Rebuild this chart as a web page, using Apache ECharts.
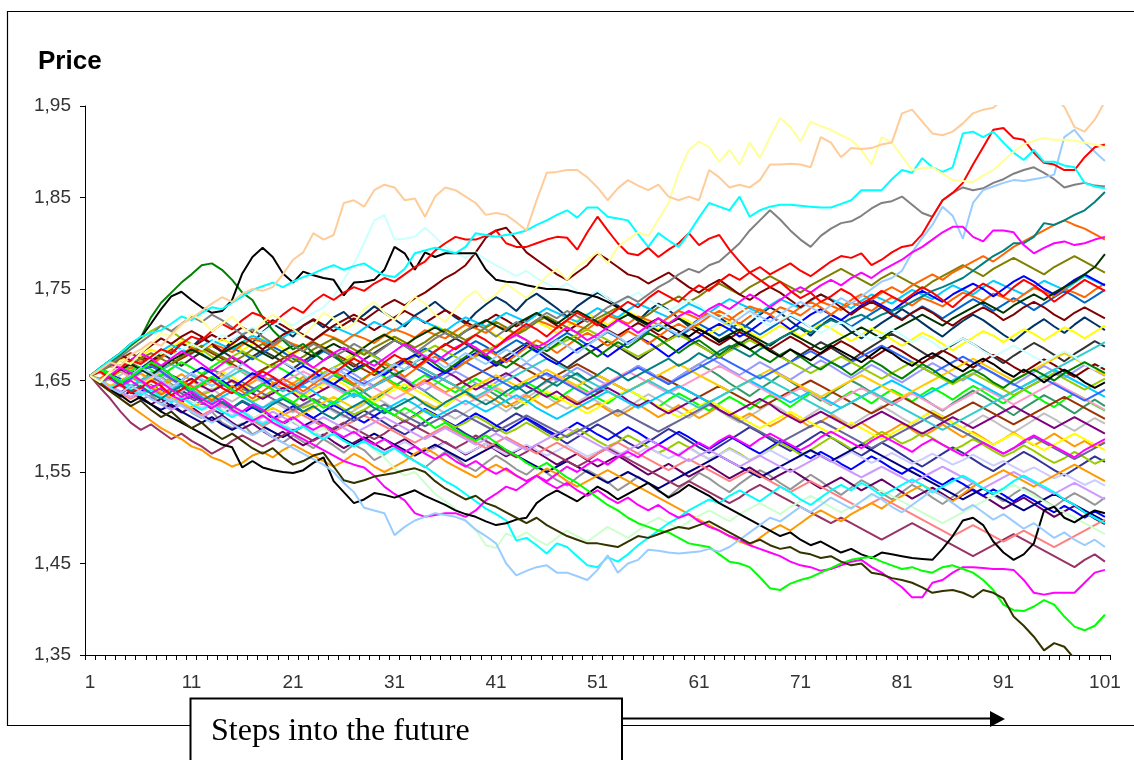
<!DOCTYPE html>
<html>
<head>
<meta charset="utf-8">
<script src="https://cdn.jsdelivr.net/npm/echarts@6/dist/echarts.min.js"></script>
<style>
html,body{margin:0;padding:0;background:#fff;}
#chart{width:1134px;height:760px;}
</style>
</head>
<body>
<div id="chart"></div>
<script>
// Steps (categories) and axis settings
const steps = [];
for (let i = 1; i <= 101; i++) steps.push(String(i));
const yMin = 1.35, yMax = 1.95, yStep = 0.1;

// Price paths, in thousandths (1655 = 1,655)
const peach1 = [1655,1662,1670,1666,1678,1684,1692,1688,1700,1712,1718,1726,1734,1741,1736,1745,1750,1748,1752,1766,1782,1790,1811,1804,1809,1844,1847,1840,1858,1864,1861,1847,1849,1829,1851,1861,1858,1851,1844,1831,1833,1831,1823,1814,1847,1877,1878,1880,1880,1872,1861,1847,1860,1869,1863,1858,1864,1851,1847,1851,1847,1880,1872,1861,1864,1861,1869,1886,1886,1887,1886,1883,1916,1910,1894,1904,1903,1904,1908,1910,1942,1946,1933,1920,1918,1922,1931,1942,1946,1948,1958,1966,1972,1965,1978,1960,1949,1927,1922,1935,1955];
const yellowLight1 = [1655,1648,1660,1672,1668,1680,1690,1702,1698,1710,1722,1716,1704,1712,1720,1708,1700,1714,1722,1716,1706,1698,1710,1724,1718,1706,1712,1728,1736,1724,1716,1730,1742,1734,1722,1714,1728,1740,1748,1736,1744,1756,1748,1740,1752,1764,1772,1760,1774,1782,1790,1778,1796,1804,1812,1808,1826,1844,1877,1902,1911,1905,1889,1902,1886,1910,1893,1916,1937,1927,1911,1933,1928,1924,1918,1913,1902,1886,1916,1910,1895,1880,1882,1883,1876,1869,1868,1867,1874,1880,1890,1900,1908,1912,1915,1913,1913,1912,1910,1908,1905];
const cyan1 = [1655,1664,1672,1680,1690,1698,1702,1705,1712,1720,1716,1724,1730,1728,1735,1742,1749,1753,1757,1752,1758,1763,1767,1772,1776,1771,1775,1778,1771,1765,1763,1772,1789,1792,1795,1792,1789,1796,1811,1809,1807,1809,1811,1814,1820,1825,1831,1836,1828,1839,1839,1829,1827,1825,1810,1796,1811,1803,1796,1811,1828,1844,1840,1836,1851,1829,1836,1840,1842,1842,1841,1840,1839,1839,1843,1847,1858,1858,1858,1870,1880,1877,1893,1883,1878,1883,1920,1922,1916,1922,1910,1899,1891,1902,1889,1889,1885,1883,1866,1862,1860];
const red1 = [1655,1660,1652,1664,1672,1668,1676,1684,1680,1690,1698,1694,1704,1712,1706,1716,1724,1720,1712,1722,1730,1724,1736,1744,1738,1746,1752,1748,1756,1762,1758,1766,1774,1780,1792,1800,1807,1804,1804,1808,1814,1800,1796,1796,1800,1804,1807,1806,1793,1812,1829,1814,1800,1789,1787,1795,1785,1793,1800,1811,1798,1805,1809,1793,1780,1768,1760,1752,1758,1748,1740,1746,1736,1742,1750,1744,1734,1740,1748,1742,1736,1744,1752,1746,1738,1730,1740,1748,1756,1750,1742,1752,1760,1754,1746,1736,1744,1752,1760,1754,1748];
const red2 = [1655,1648,1640,1646,1636,1642,1650,1644,1634,1640,1648,1656,1650,1642,1636,1644,1652,1660,1654,1646,1640,1648,1656,1664,1658,1666,1674,1668,1660,1670,1678,1672,1664,1672,1682,1690,1684,1692,1700,1694,1686,1696,1704,1712,1706,1698,1708,1716,1724,1718,1710,1720,1728,1736,1730,1740,1748,1742,1736,1746,1754,1748,1758,1766,1760,1768,1774,1766,1772,1778,1770,1764,1772,1780,1786,1784,1789,1776,1782,1790,1796,1798,1810,1829,1847,1855,1866,1886,1905,1924,1926,1915,1913,1899,1888,1886,1880,1880,1894,1905,1908];
const olive1 = [1655,1646,1638,1630,1622,1628,1618,1610,1616,1606,1598,1604,1594,1586,1592,1584,1576,1570,1576,1566,1558,1562,1568,1571,1556,1541,1538,1541,1545,1547,1549,1552,1554,1550,1540,1532,1526,1520,1524,1516,1512,1506,1500,1494,1500,1492,1486,1480,1476,1472,1472,1470,1468,1474,1480,1478,1482,1486,1490,1488,1492,1496,1490,1484,1478,1472,1476,1470,1466,1468,1462,1460,1456,1458,1452,1448,1450,1440,1438,1434,1432,1429,1424,1418,1420,1421,1418,1413,1421,1418,1412,1392,1382,1370,1355,1363,1359,1346,1335,1328,1320];
const green1 = [1655,1662,1656,1648,1654,1662,1670,1664,1656,1648,1640,1646,1654,1648,1640,1632,1638,1646,1640,1632,1626,1634,1628,1620,1626,1634,1640,1632,1624,1618,1612,1620,1614,1606,1598,1604,1596,1590,1584,1590,1582,1574,1568,1560,1554,1560,1552,1544,1538,1530,1522,1514,1508,1500,1494,1490,1486,1484,1478,1472,1470,1468,1460,1452,1450,1446,1435,1423,1421,1428,1432,1435,1440,1445,1450,1454,1456,1457,1452,1448,1444,1446,1442,1440,1446,1448,1444,1440,1432,1421,1405,1399,1398,1403,1410,1405,1392,1381,1377,1382,1394];
const magenta1 = [1655,1648,1656,1664,1658,1650,1642,1648,1640,1632,1638,1630,1624,1630,1622,1616,1624,1618,1610,1604,1610,1602,1596,1602,1594,1588,1594,1586,1580,1586,1578,1572,1578,1570,1564,1570,1562,1556,1562,1554,1548,1554,1546,1540,1546,1538,1532,1538,1530,1524,1530,1522,1516,1522,1514,1508,1514,1506,1500,1504,1496,1490,1486,1480,1476,1470,1466,1462,1458,1452,1448,1446,1442,1444,1448,1452,1454,1446,1440,1432,1424,1413,1413,1429,1432,1440,1446,1446,1445,1444,1444,1443,1432,1418,1416,1418,1418,1418,1429,1440,1443];
const lightBlue1 = [1655,1650,1642,1636,1644,1638,1630,1624,1630,1622,1616,1610,1604,1610,1602,1596,1590,1596,1588,1582,1576,1570,1564,1558,1550,1538,1528,1511,1508,1505,1481,1490,1497,1501,1505,1503,1501,1497,1487,1480,1472,1450,1437,1442,1446,1448,1440,1440,1436,1432,1443,1459,1440,1450,1454,1465,1464,1462,1461,1462,1463,1466,1463,1468,1476,1484,1492,1500,1496,1504,1512,1506,1514,1522,1516,1510,1518,1526,1520,1512,1506,1514,1522,1530,1524,1516,1508,1514,1506,1498,1504,1496,1488,1494,1486,1478,1484,1476,1470,1476,1468];
const black1 = [1655,1664,1672,1680,1690,1697,1712,1728,1742,1747,1738,1730,1724,1726,1738,1767,1785,1795,1785,1767,1757,1769,1765,1762,1760,1743,1757,1758,1760,1771,1796,1789,1771,1790,1785,1789,1789,1789,1789,1771,1760,1758,1757,1754,1752,1750,1750,1749,1746,1744,1741,1736,1730,1724,1718,1712,1718,1710,1704,1698,1706,1700,1692,1698,1690,1684,1690,1682,1676,1684,1678,1672,1680,1688,1682,1676,1670,1678,1686,1680,1672,1666,1674,1680,1674,1666,1660,1668,1674,1668,1660,1654,1662,1656,1648,1656,1662,1656,1648,1642,1648];
const darkGreen1 = [1655,1662,1670,1678,1688,1697,1719,1735,1746,1757,1766,1776,1778,1771,1760,1746,1738,1719,1705,1694,1684,1690,1680,1672,1678,1668,1660,1666,1672,1664,1656,1662,1670,1676,1668,1660,1668,1676,1684,1678,1670,1664,1672,1680,1688,1682,1690,1698,1692,1684,1676,1684,1692,1686,1694,1702,1696,1688,1680,1688,1694,1686,1678,1686,1692,1684,1676,1670,1678,1684,1676,1668,1662,1670,1664,1656,1664,1672,1666,1658,1652,1660,1668,1662,1654,1648,1656,1662,1656,1648,1642,1650,1656,1662,1656,1650,1658,1664,1670,1664,1658];
const gray1 = [1655,1660,1668,1676,1684,1692,1700,1710,1704,1712,1720,1714,1722,1716,1708,1700,1706,1698,1690,1696,1688,1682,1690,1684,1676,1682,1690,1684,1678,1686,1694,1688,1680,1688,1696,1702,1696,1704,1712,1706,1698,1706,1714,1708,1716,1724,1718,1726,1720,1714,1722,1730,1736,1742,1736,1744,1752,1758,1766,1772,1768,1776,1780,1790,1800,1814,1825,1836,1826,1814,1804,1796,1808,1816,1822,1824,1830,1838,1844,1846,1851,1842,1833,1829,1847,1855,1861,1858,1860,1866,1870,1876,1880,1883,1877,1870,1861,1864,1866,1863,1862];
const teal1 = [1655,1648,1654,1646,1638,1644,1636,1630,1638,1644,1636,1628,1634,1626,1620,1628,1622,1616,1624,1630,1624,1616,1622,1614,1608,1616,1622,1628,1620,1614,1620,1626,1632,1624,1618,1626,1632,1638,1630,1624,1630,1638,1644,1636,1642,1650,1644,1652,1658,1650,1656,1664,1658,1650,1656,1662,1668,1674,1666,1672,1680,1674,1682,1688,1682,1676,1684,1690,1696,1702,1708,1702,1710,1716,1712,1718,1722,1716,1722,1726,1730,1736,1742,1748,1752,1757,1762,1770,1778,1786,1792,1800,1800,1807,1822,1820,1825,1831,1836,1845,1856];
const lightBlue2 = [1655,1662,1656,1648,1656,1664,1658,1650,1642,1650,1658,1652,1644,1652,1660,1668,1662,1654,1662,1670,1664,1656,1648,1656,1664,1658,1650,1644,1652,1660,1668,1662,1670,1678,1672,1664,1672,1680,1674,1668,1676,1684,1678,1670,1678,1686,1694,1688,1680,1688,1696,1704,1698,1690,1698,1706,1712,1706,1700,1708,1716,1722,1716,1710,1718,1726,1720,1714,1722,1730,1736,1730,1724,1732,1740,1734,1742,1750,1758,1762,1770,1790,1806,1820,1840,1830,1805,1844,1858,1862,1866,1869,1868,1870,1872,1875,1916,1924,1910,1900,1890];
const magenta2 = [1655,1662,1670,1664,1672,1680,1674,1666,1674,1682,1676,1668,1660,1668,1676,1670,1662,1654,1662,1670,1678,1672,1664,1672,1680,1686,1680,1672,1666,1674,1682,1690,1684,1676,1670,1678,1686,1692,1686,1678,1686,1694,1700,1694,1686,1692,1700,1708,1702,1694,1700,1708,1716,1710,1702,1710,1718,1712,1720,1726,1720,1728,1734,1728,1736,1744,1738,1730,1738,1746,1752,1746,1754,1760,1754,1762,1768,1762,1770,1776,1782,1790,1796,1804,1812,1818,1818,1807,1802,1814,1814,1812,1798,1789,1795,1800,1802,1798,1800,1804,1807];
const orange1 = [1655,1648,1640,1648,1656,1650,1642,1634,1642,1650,1644,1636,1628,1636,1644,1638,1630,1638,1646,1652,1646,1638,1646,1654,1660,1654,1646,1652,1660,1668,1662,1654,1662,1670,1676,1670,1662,1670,1678,1684,1678,1670,1678,1686,1694,1688,1680,1688,1696,1702,1696,1688,1696,1704,1698,1690,1698,1706,1712,1706,1712,1720,1726,1720,1712,1720,1728,1722,1714,1722,1730,1736,1730,1722,1730,1738,1744,1738,1746,1752,1746,1754,1760,1766,1760,1768,1774,1780,1786,1780,1788,1796,1802,1808,1814,1820,1825,1820,1816,1810,1804];
const maroon1 = [1655,1662,1670,1678,1672,1680,1688,1696,1690,1698,1704,1698,1690,1682,1690,1698,1692,1684,1692,1700,1706,1700,1694,1702,1710,1716,1722,1716,1724,1732,1738,1732,1740,1746,1754,1762,1768,1776,1790,1806,1814,1817,1804,1790,1782,1774,1766,1760,1768,1776,1789,1782,1774,1766,1763,1756,1762,1768,1760,1752,1746,1754,1760,1752,1744,1738,1746,1752,1746,1738,1730,1738,1744,1738,1730,1722,1730,1736,1730,1722,1716,1724,1730,1724,1716,1710,1718,1724,1730,1724,1716,1722,1730,1736,1730,1722,1716,1724,1730,1724,1718];
const lightCyan1 = [1655,1650,1658,1664,1672,1666,1674,1682,1676,1684,1690,1684,1692,1700,1694,1702,1708,1702,1710,1716,1710,1718,1724,1730,1742,1760,1778,1800,1825,1831,1804,1805,1807,1817,1807,1796,1790,1784,1790,1782,1776,1770,1764,1770,1762,1756,1750,1756,1748,1742,1748,1740,1734,1740,1746,1738,1732,1726,1732,1738,1732,1724,1718,1724,1730,1724,1716,1710,1716,1722,1716,1708,1702,1708,1714,1708,1700,1694,1700,1706,1700,1692,1698,1692,1684,1690,1696,1690,1682,1676,1682,1688,1682,1676,1670,1676,1682,1676,1668,1662,1668];
const black2 = [1655,1648,1640,1634,1626,1632,1624,1616,1610,1604,1598,1592,1586,1580,1577,1555,1562,1555,1552,1550,1549,1552,1560,1566,1540,1528,1516,1520,1527,1525,1522,1526,1530,1524,1519,1514,1508,1504,1501,1496,1492,1494,1498,1500,1516,1524,1530,1524,1518,1526,1534,1528,1520,1526,1532,1538,1530,1522,1528,1536,1530,1524,1516,1510,1504,1498,1492,1486,1480,1484,1476,1470,1474,1468,1462,1466,1460,1456,1462,1460,1458,1456,1455,1454,1466,1480,1497,1500,1492,1474,1462,1454,1460,1472,1508,1512,1500,1495,1502,1508,1505];
const cyan2 = [1655,1650,1642,1648,1640,1634,1640,1632,1626,1632,1624,1618,1624,1616,1610,1616,1608,1602,1608,1600,1594,1600,1592,1586,1592,1584,1578,1584,1576,1570,1576,1568,1562,1556,1548,1540,1534,1526,1518,1510,1504,1497,1475,1478,1470,1461,1472,1468,1458,1448,1446,1457,1452,1460,1470,1478,1486,1494,1500,1508,1514,1520,1516,1524,1530,1524,1518,1526,1534,1528,1520,1514,1522,1530,1536,1530,1538,1532,1524,1530,1536,1542,1536,1528,1534,1540,1546,1540,1532,1526,1532,1540,1546,1540,1534,1528,1520,1514,1506,1500,1494];
const magenta3 = [1655,1660,1652,1644,1650,1642,1636,1642,1634,1628,1634,1626,1620,1626,1618,1612,1606,1612,1604,1598,1592,1586,1580,1574,1568,1562,1558,1555,1546,1534,1526,1519,1505,1501,1503,1505,1505,1501,1508,1519,1526,1534,1530,1538,1546,1540,1548,1556,1550,1558,1564,1558,1566,1572,1566,1574,1580,1574,1568,1576,1582,1576,1584,1590,1584,1578,1586,1592,1586,1580,1574,1580,1588,1594,1588,1582,1576,1584,1590,1584,1578,1572,1580,1586,1580,1574,1568,1576,1582,1576,1570,1576,1584,1590,1584,1578,1572,1566,1574,1580,1586];
const lightGreen1 = [1655,1648,1654,1646,1640,1646,1638,1632,1638,1630,1624,1630,1622,1616,1622,1614,1608,1614,1606,1600,1606,1598,1592,1598,1590,1584,1578,1584,1574,1566,1554,1546,1550,1538,1526,1518,1510,1496,1487,1470,1467,1483,1478,1484,1476,1470,1478,1486,1480,1474,1482,1490,1484,1478,1486,1494,1500,1494,1488,1496,1502,1508,1502,1496,1504,1510,1516,1510,1504,1512,1518,1524,1518,1512,1506,1512,1518,1524,1530,1524,1518,1512,1506,1500,1494,1500,1506,1512,1518,1524,1530,1536,1530,1524,1518,1512,1506,1500,1494,1488,1482];
const orange2 = [1655,1646,1638,1630,1622,1614,1606,1598,1592,1586,1578,1574,1566,1562,1556,1560,1568,1572,1566,1574,1580,1574,1568,1562,1556,1562,1570,1564,1556,1550,1556,1562,1570,1576,1570,1562,1556,1550,1544,1552,1558,1552,1546,1540,1546,1554,1548,1540,1534,1540,1546,1552,1546,1540,1534,1528,1522,1516,1510,1504,1498,1492,1486,1480,1474,1470,1478,1486,1492,1486,1494,1502,1508,1502,1496,1504,1510,1516,1510,1518,1524,1530,1536,1530,1524,1518,1526,1534,1540,1546,1552,1546,1540,1534,1540,1546,1552,1558,1552,1546,1540];
const plum1 = [1655,1642,1630,1616,1604,1596,1602,1594,1586,1592,1584,1578,1570,1576,1584,1590,1584,1578,1584,1590,1596,1590,1584,1590,1598,1604,1598,1592,1586,1592,1600,1606,1600,1594,1588,1582,1576,1582,1590,1584,1578,1572,1566,1572,1580,1574,1568,1562,1556,1562,1570,1576,1570,1564,1558,1552,1546,1540,1534,1540,1534,1528,1522,1516,1522,1530,1536,1530,1524,1518,1512,1506,1500,1494,1500,1494,1488,1482,1476,1482,1488,1494,1488,1482,1476,1470,1464,1458,1464,1470,1476,1482,1476,1470,1464,1458,1452,1446,1454,1460,1452];
const navy1 = [1655,1648,1640,1632,1638,1630,1624,1618,1624,1616,1610,1604,1610,1602,1596,1602,1608,1600,1594,1588,1594,1600,1606,1600,1592,1586,1580,1586,1592,1586,1580,1574,1568,1574,1580,1574,1568,1562,1568,1574,1580,1574,1568,1562,1556,1550,1556,1562,1556,1550,1544,1538,1544,1550,1544,1538,1532,1538,1544,1550,1556,1562,1568,1562,1556,1550,1544,1550,1556,1562,1568,1574,1568,1562,1568,1574,1580,1574,1568,1562,1556,1550,1544,1538,1532,1526,1520,1526,1532,1526,1520,1514,1508,1514,1520,1526,1520,1514,1508,1502,1496];
const blue1 = [1655,1662,1656,1648,1656,1664,1670,1664,1656,1650,1658,1664,1658,1650,1642,1650,1658,1652,1644,1652,1660,1666,1660,1652,1646,1654,1662,1668,1662,1656,1664,1672,1678,1672,1664,1658,1666,1674,1680,1674,1666,1672,1680,1688,1682,1674,1668,1676,1684,1690,1684,1676,1684,1692,1698,1692,1684,1676,1684,1692,1698,1706,1712,1706,1698,1704,1712,1720,1714,1706,1714,1722,1728,1722,1716,1724,1732,1738,1732,1726,1734,1742,1748,1742,1736,1744,1750,1756,1750,1742,1750,1758,1764,1758,1750,1744,1752,1760,1766,1760,1754];
const yellow1 = [1655,1648,1656,1662,1654,1646,1652,1660,1654,1646,1640,1646,1654,1660,1654,1646,1638,1646,1652,1646,1638,1632,1640,1646,1652,1646,1638,1632,1626,1634,1640,1646,1640,1634,1628,1622,1630,1636,1644,1650,1644,1636,1630,1624,1632,1638,1632,1626,1620,1614,1620,1628,1634,1640,1634,1628,1622,1616,1610,1616,1622,1628,1622,1616,1610,1604,1598,1604,1610,1616,1610,1604,1598,1592,1598,1604,1598,1592,1586,1592,1598,1604,1610,1616,1610,1604,1598,1592,1586,1580,1586,1592,1586,1580,1574,1580,1586,1592,1586,1580,1574];
const purple1 = [1655,1662,1668,1662,1654,1660,1666,1660,1652,1646,1652,1644,1638,1644,1650,1644,1636,1630,1636,1642,1636,1628,1634,1640,1646,1640,1632,1638,1644,1650,1656,1650,1642,1648,1654,1660,1654,1646,1640,1646,1652,1658,1652,1644,1638,1632,1638,1630,1624,1630,1636,1642,1636,1628,1622,1628,1620,1614,1620,1626,1632,1626,1618,1612,1618,1624,1630,1624,1616,1610,1604,1610,1616,1610,1604,1598,1604,1610,1616,1610,1604,1598,1592,1598,1604,1610,1604,1598,1604,1610,1616,1622,1616,1610,1604,1598,1604,1610,1604,1598,1592];
const olive2 = [1655,1660,1666,1672,1666,1674,1680,1674,1668,1676,1682,1688,1682,1676,1670,1676,1684,1690,1684,1676,1670,1676,1684,1690,1696,1690,1684,1678,1686,1692,1698,1692,1686,1692,1700,1706,1700,1694,1700,1708,1714,1708,1700,1706,1714,1720,1714,1708,1702,1710,1718,1724,1730,1724,1716,1722,1730,1736,1742,1736,1742,1750,1756,1750,1744,1752,1758,1764,1758,1752,1746,1754,1760,1766,1772,1766,1760,1754,1762,1768,1762,1756,1750,1758,1764,1770,1776,1770,1764,1772,1778,1784,1778,1772,1766,1774,1780,1786,1780,1774,1768];
const darkGreen2 = [1655,1650,1656,1662,1668,1662,1656,1664,1672,1678,1684,1678,1672,1680,1686,1692,1686,1680,1674,1682,1688,1682,1676,1684,1690,1684,1678,1686,1694,1700,1694,1688,1696,1702,1708,1702,1696,1704,1710,1716,1710,1704,1712,1718,1724,1718,1712,1720,1726,1720,1714,1708,1716,1722,1716,1710,1704,1712,1718,1712,1706,1700,1694,1700,1706,1700,1694,1688,1696,1702,1696,1690,1684,1690,1696,1702,1708,1702,1696,1704,1710,1716,1722,1716,1710,1718,1724,1730,1736,1730,1724,1732,1738,1744,1738,1746,1752,1758,1766,1774,1788];
const sky1 = [1655,1648,1640,1646,1654,1648,1640,1634,1640,1646,1640,1632,1626,1632,1638,1632,1626,1620,1626,1632,1638,1644,1638,1630,1624,1630,1636,1630,1624,1618,1624,1630,1624,1616,1610,1616,1622,1628,1622,1616,1622,1628,1634,1628,1620,1614,1608,1614,1620,1626,1632,1638,1632,1626,1620,1626,1632,1638,1644,1638,1632,1626,1632,1638,1644,1650,1644,1638,1632,1626,1632,1638,1632,1626,1620,1626,1632,1638,1644,1650,1644,1638,1632,1638,1644,1650,1656,1650,1644,1638,1632,1638,1644,1650,1656,1662,1656,1650,1644,1638,1632];
const lavender1 = [1655,1650,1644,1638,1632,1638,1630,1624,1618,1624,1616,1610,1616,1622,1616,1610,1604,1610,1616,1610,1604,1598,1604,1610,1604,1598,1592,1598,1604,1610,1604,1598,1592,1586,1592,1598,1592,1586,1580,1586,1592,1586,1580,1574,1580,1586,1592,1598,1592,1586,1580,1574,1568,1574,1580,1586,1580,1574,1568,1562,1568,1574,1568,1562,1556,1562,1568,1562,1556,1550,1556,1562,1568,1562,1556,1550,1544,1550,1556,1550,1544,1538,1544,1550,1556,1550,1544,1538,1532,1538,1544,1550,1544,1538,1532,1526,1532,1538,1532,1526,1520];
const pink1 = [1655,1660,1666,1660,1654,1648,1654,1660,1654,1648,1642,1648,1654,1660,1666,1660,1654,1648,1642,1648,1654,1660,1654,1648,1642,1636,1642,1648,1642,1636,1630,1636,1642,1648,1642,1636,1630,1624,1630,1636,1642,1636,1630,1636,1642,1648,1654,1648,1642,1636,1642,1648,1654,1660,1654,1648,1642,1636,1642,1648,1654,1660,1666,1660,1654,1648,1642,1636,1630,1636,1642,1636,1630,1624,1630,1636,1642,1636,1630,1624,1630,1636,1630,1624,1618,1624,1630,1636,1642,1636,1630,1624,1630,1636,1642,1648,1642,1636,1630,1624,1618];
const royalBlue1 = [1655,1662,1654,1646,1652,1660,1666,1660,1652,1646,1640,1646,1652,1646,1640,1634,1640,1646,1652,1646,1640,1646,1652,1658,1664,1658,1652,1646,1652,1658,1664,1670,1664,1658,1652,1658,1664,1670,1664,1658,1652,1646,1640,1646,1652,1658,1652,1646,1640,1634,1640,1646,1652,1658,1664,1658,1652,1646,1652,1658,1664,1670,1676,1670,1664,1658,1652,1658,1664,1670,1676,1682,1676,1670,1664,1670,1676,1682,1688,1682,1676,1670,1664,1658,1664,1670,1676,1670,1664,1658,1652,1646,1640,1646,1652,1646,1640,1634,1628,1634,1640];
const lime1 = [1655,1664,1672,1680,1688,1696,1704,1710,1704,1696,1690,1684,1676,1670,1676,1682,1676,1670,1664,1670,1676,1670,1664,1658,1664,1670,1676,1682,1676,1670,1664,1670,1676,1682,1688,1682,1676,1670,1676,1682,1688,1694,1700,1694,1688,1682,1688,1694,1700,1706,1700,1694,1688,1682,1676,1682,1688,1694,1700,1694,1688,1682,1676,1682,1688,1694,1688,1682,1676,1670,1664,1658,1664,1670,1676,1670,1664,1658,1652,1658,1664,1670,1664,1658,1652,1646,1652,1658,1652,1646,1640,1634,1640,1646,1652,1658,1652,1646,1640,1646,1652];
const gold1 = [1655,1650,1644,1650,1656,1650,1644,1638,1632,1626,1620,1626,1632,1626,1620,1614,1608,1614,1620,1614,1608,1614,1620,1626,1632,1626,1620,1626,1632,1638,1644,1638,1632,1626,1620,1626,1632,1638,1644,1650,1656,1650,1644,1650,1656,1662,1656,1650,1644,1650,1656,1650,1644,1638,1644,1650,1656,1662,1668,1662,1656,1650,1644,1638,1644,1650,1656,1662,1656,1650,1644,1638,1632,1638,1644,1650,1656,1650,1644,1638,1632,1638,1644,1650,1656,1662,1668,1674,1668,1662,1656,1650,1656,1662,1668,1674,1680,1674,1668,1662,1656];
const slate1 = [1655,1648,1642,1636,1642,1648,1654,1648,1642,1636,1630,1624,1630,1636,1642,1648,1642,1636,1630,1624,1618,1624,1630,1624,1618,1612,1606,1612,1618,1624,1618,1612,1606,1600,1606,1612,1618,1612,1606,1600,1594,1600,1606,1612,1606,1600,1594,1588,1594,1600,1606,1612,1618,1612,1606,1600,1594,1600,1606,1612,1618,1624,1618,1612,1606,1600,1594,1588,1582,1588,1594,1600,1606,1600,1594,1588,1582,1576,1582,1588,1594,1600,1606,1612,1606,1600,1594,1588,1582,1576,1570,1576,1582,1588,1582,1576,1570,1564,1570,1576,1582];
const brown1 = [1655,1662,1668,1674,1680,1674,1668,1662,1668,1674,1680,1686,1680,1674,1668,1662,1656,1662,1668,1674,1680,1686,1692,1686,1680,1674,1668,1662,1656,1662,1668,1674,1668,1662,1656,1650,1644,1650,1656,1662,1668,1674,1668,1662,1656,1650,1656,1662,1668,1662,1656,1650,1644,1638,1644,1650,1656,1650,1644,1638,1632,1638,1644,1638,1632,1626,1620,1626,1632,1638,1644,1650,1644,1638,1632,1626,1620,1614,1620,1626,1632,1626,1620,1614,1608,1614,1620,1626,1620,1614,1608,1602,1608,1614,1620,1626,1632,1626,1620,1614,1608];
const salmon1 = [1655,1648,1642,1636,1630,1636,1642,1636,1630,1624,1618,1612,1618,1624,1618,1612,1606,1600,1606,1612,1618,1612,1606,1600,1594,1600,1606,1612,1606,1600,1594,1588,1582,1588,1594,1600,1594,1588,1582,1576,1582,1588,1582,1576,1570,1576,1582,1576,1570,1564,1570,1576,1582,1576,1570,1564,1558,1552,1558,1564,1558,1552,1546,1540,1546,1552,1546,1540,1534,1528,1534,1540,1534,1528,1522,1516,1510,1516,1522,1516,1510,1504,1498,1492,1486,1480,1486,1492,1486,1480,1474,1480,1486,1480,1474,1468,1474,1480,1486,1492,1498];
const turquoise1 = [1655,1662,1656,1650,1644,1650,1656,1662,1668,1662,1656,1650,1644,1650,1656,1662,1656,1650,1644,1638,1644,1650,1656,1650,1644,1638,1632,1638,1644,1650,1656,1662,1668,1662,1656,1650,1644,1638,1632,1638,1644,1650,1656,1662,1668,1674,1668,1662,1656,1650,1644,1638,1632,1638,1644,1650,1644,1638,1632,1626,1620,1626,1632,1638,1644,1650,1656,1650,1644,1638,1632,1626,1620,1614,1620,1626,1632,1638,1632,1626,1620,1614,1608,1602,1596,1602,1608,1614,1620,1626,1632,1638,1644,1650,1656,1662,1668,1674,1680,1686,1692];
const darkTeal1 = [1655,1661,1652,1666,1671,1663,1675,1684,1679,1690,1686,1697,1689,1681,1694,1700,1691,1703,1712,1705,1698,1710,1716,1708,1719,1725,1714,1722,1731,1724,1717,1709,1721,1728,1736,1727,1719,1712,1724,1733,1741,1735,1726,1738,1745,1737,1729,1720,1731,1739,1746,1740,1732,1723,1715,1726,1734,1727,1718,1709,1717,1725,1719,1711,1704,1713,1722,1730,1724,1715,1707,1699,1710,1718,1712,1703,1696,1705,1713,1720,1728,1721,1713,1705,1698,1707,1715,1722,1716,1708,1700,1693,1702,1710,1717,1709,1702,1711,1719,1712,1705];
const seaGreen1 = [1655,1649,1657,1652,1643,1650,1659,1654,1646,1639,1647,1655,1662,1657,1649,1641,1636,1645,1653,1648,1641,1633,1640,1648,1656,1650,1644,1637,1629,1636,1644,1651,1645,1638,1630,1622,1630,1639,1646,1641,1634,1627,1619,1626,1634,1642,1649,1656,1651,1644,1637,1645,1652,1659,1666,1660,1653,1646,1654,1661,1668,1662,1655,1647,1640,1633,1641,1648,1656,1649,1642,1635,1628,1636,1643,1650,1644,1637,1630,1623,1630,1637,1631,1624,1617,1625,1632,1639,1633,1626,1619,1612,1620,1627,1634,1628,1621,1614,1622,1629,1622];
const indigo1 = [1655,1650,1643,1637,1644,1638,1631,1625,1632,1639,1633,1626,1619,1613,1620,1627,1621,1614,1608,1601,1608,1615,1609,1602,1596,1603,1610,1617,1611,1604,1597,1591,1598,1605,1612,1606,1599,1592,1586,1593,1600,1607,1614,1608,1601,1594,1588,1581,1588,1595,1602,1596,1589,1582,1576,1583,1590,1597,1591,1584,1577,1571,1578,1585,1592,1599,1593,1586,1579,1573,1580,1587,1594,1588,1581,1574,1568,1575,1582,1576,1569,1562,1556,1563,1570,1577,1571,1564,1557,1551,1558,1565,1572,1566,1559,1552,1546,1553,1560,1567,1561];
const darkGray1 = [1655,1663,1670,1664,1657,1665,1672,1680,1673,1666,1674,1681,1688,1682,1675,1668,1676,1683,1677,1670,1663,1671,1678,1685,1679,1672,1665,1673,1680,1687,1694,1688,1681,1674,1682,1689,1696,1690,1683,1676,1669,1677,1684,1691,1685,1678,1671,1664,1672,1679,1686,1693,1687,1680,1673,1681,1688,1695,1702,1696,1689,1682,1675,1683,1690,1697,1691,1684,1677,1670,1678,1685,1692,1686,1679,1672,1680,1687,1694,1701,1695,1688,1681,1674,1682,1689,1696,1690,1683,1676,1669,1677,1684,1691,1685,1678,1671,1679,1686,1693,1687];
const gray2 = [1655,1651,1642,1646,1638,1629,1634,1625,1620,1627,1615,1609,1616,1604,1598,1603,1591,1597,1588,1582,1590,1583,1576,1586,1579,1571,1580,1574,1563,1569,1577,1570,1562,1555,1564,1572,1566,1557,1551,1560,1568,1561,1553,1547,1556,1549,1541,1535,1544,1552,1546,1539,1530,1537,1545,1538,1529,1523,1532,1540,1549,1543,1535,1528,1537,1545,1552,1546,1538,1531,1539,1547,1540,1532,1525,1533,1541,1535,1527,1520,1528,1536,1530,1522,1515,1523,1531,1538,1532,1525,1518,1526,1533,1527,1519,1512,1520,1527,1521,1514,1522];
const silver1 = [1655,1659,1650,1656,1664,1657,1648,1653,1645,1638,1644,1636,1641,1633,1627,1634,1626,1620,1628,1621,1615,1622,1629,1623,1616,1610,1617,1624,1632,1626,1619,1613,1620,1627,1621,1614,1608,1615,1622,1629,1623,1616,1624,1631,1638,1632,1625,1619,1626,1633,1627,1620,1614,1621,1628,1635,1629,1622,1616,1609,1616,1623,1617,1610,1604,1611,1618,1625,1619,1612,1606,1613,1620,1614,1607,1601,1608,1615,1622,1616,1609,1603,1610,1617,1611,1604,1598,1605,1612,1606,1599,1593,1600,1607,1614,1608,1601,1595,1602,1609,1603];
const periwinkle1 = [1655,1647,1652,1644,1637,1643,1650,1657,1651,1644,1638,1645,1652,1646,1639,1633,1640,1647,1654,1648,1641,1635,1642,1649,1656,1663,1657,1650,1644,1651,1658,1652,1645,1639,1646,1653,1660,1654,1647,1641,1648,1655,1662,1669,1663,1656,1650,1657,1664,1658,1651,1645,1652,1659,1666,1660,1653,1647,1654,1661,1668,1675,1669,1662,1656,1663,1670,1664,1657,1651,1658,1665,1672,1666,1659,1653,1660,1667,1661,1654,1648,1655,1662,1669,1663,1656,1650,1657,1664,1658,1651,1645,1652,1659,1666,1660,1653,1660,1667,1661,1655];
const darkPurple1 = [1655,1648,1641,1646,1638,1631,1624,1630,1622,1615,1621,1613,1606,1612,1604,1597,1603,1595,1588,1594,1586,1579,1585,1591,1583,1576,1582,1588,1581,1574,1580,1586,1578,1571,1577,1583,1576,1569,1575,1581,1574,1567,1573,1579,1572,1565,1558,1564,1570,1563,1556,1562,1568,1561,1554,1547,1553,1559,1552,1545,1551,1557,1550,1543,1549,1555,1548,1541,1547,1553,1546,1539,1532,1538,1544,1537,1530,1536,1542,1535,1528,1521,1527,1533,1526,1519,1525,1531,1524,1517,1510,1516,1522,1515,1508,1501,1507,1513,1506,1499,1493];
const oceanBlue1 = [1655,1660,1667,1661,1669,1676,1670,1677,1684,1678,1685,1679,1672,1679,1686,1680,1673,1680,1687,1681,1674,1668,1675,1682,1676,1669,1676,1683,1677,1670,1664,1671,1678,1685,1679,1672,1679,1686,1693,1687,1680,1687,1694,1688,1681,1688,1695,1702,1696,1689,1696,1703,1697,1690,1697,1704,1711,1705,1698,1705,1712,1706,1699,1706,1713,1707,1700,1707,1714,1721,1715,1708,1715,1722,1716,1709,1716,1723,1730,1724,1717,1724,1731,1725,1718,1725,1732,1739,1733,1726,1733,1740,1734,1727,1734,1741,1748,1742,1735,1742,1749];
const green2 = [1655,1663,1658,1666,1660,1668,1662,1655,1663,1670,1664,1657,1665,1672,1666,1659,1653,1661,1668,1662,1655,1649,1657,1664,1658,1651,1645,1653,1660,1654,1647,1641,1649,1656,1650,1643,1637,1645,1652,1646,1639,1633,1641,1648,1642,1635,1629,1637,1644,1638,1631,1625,1633,1640,1634,1627,1621,1629,1636,1630,1623,1617,1625,1632,1626,1619,1627,1634,1628,1621,1629,1636,1630,1623,1631,1638,1632,1625,1633,1640,1634,1627,1635,1642,1636,1629,1637,1644,1638,1631,1625,1633,1640,1634,1627,1621,1629,1636,1630,1623,1617];
const blue2 = [1655,1650,1657,1651,1644,1638,1645,1639,1632,1626,1633,1627,1620,1627,1621,1614,1621,1615,1608,1615,1622,1616,1609,1616,1623,1617,1610,1604,1611,1618,1612,1605,1612,1619,1613,1606,1600,1607,1614,1608,1601,1595,1602,1609,1603,1596,1590,1597,1604,1598,1591,1585,1592,1599,1593,1586,1580,1587,1594,1588,1581,1575,1582,1589,1583,1576,1570,1577,1584,1578,1571,1565,1572,1566,1559,1553,1560,1567,1561,1554,1548,1555,1549,1542,1536,1543,1537,1530,1524,1531,1525,1518,1525,1519,1512,1506,1513,1507,1500,1507,1501];
const maroon2 = [1655,1662,1656,1663,1670,1677,1671,1678,1685,1692,1686,1693,1700,1694,1701,1708,1702,1709,1716,1710,1703,1710,1717,1711,1704,1711,1718,1712,1705,1712,1719,1726,1720,1713,1720,1727,1721,1714,1708,1715,1722,1716,1709,1716,1723,1717,1710,1704,1711,1718,1712,1705,1699,1706,1713,1707,1700,1694,1701,1708,1702,1695,1689,1696,1703,1697,1690,1684,1691,1698,1692,1685,1679,1686,1693,1687,1680,1674,1681,1688,1682,1675,1669,1676,1683,1677,1670,1664,1671,1678,1672,1665,1659,1666,1673,1667,1660,1654,1661,1668,1662];
const yellow2 = [1655,1661,1668,1675,1670,1677,1684,1679,1686,1693,1688,1681,1688,1695,1690,1683,1690,1697,1692,1685,1678,1685,1692,1687,1680,1673,1680,1687,1694,1701,1696,1689,1696,1703,1710,1705,1698,1705,1712,1707,1700,1693,1700,1707,1714,1709,1702,1709,1716,1723,1718,1711,1718,1725,1720,1713,1706,1713,1720,1715,1708,1701,1708,1715,1710,1703,1696,1703,1710,1705,1698,1705,1712,1707,1700,1693,1700,1707,1702,1695,1688,1695,1702,1697,1690,1683,1690,1697,1704,1699,1692,1699,1706,1701,1694,1701,1708,1703,1696,1703,1710];
const orange3 = [1655,1659,1652,1645,1651,1658,1651,1644,1650,1657,1650,1643,1649,1656,1649,1642,1648,1655,1648,1641,1647,1654,1647,1640,1646,1653,1646,1639,1645,1652,1645,1638,1644,1651,1644,1637,1643,1636,1629,1635,1628,1621,1627,1634,1627,1620,1626,1633,1626,1619,1625,1618,1611,1617,1624,1617,1610,1616,1623,1616,1609,1615,1622,1615,1608,1614,1607,1600,1606,1613,1606,1599,1605,1612,1605,1598,1604,1597,1590,1596,1603,1596,1589,1595,1602,1595,1588,1594,1587,1580,1586,1593,1586,1579,1585,1592,1585,1578,1584,1577,1583];
const sky2 = [1655,1662,1669,1664,1672,1679,1674,1682,1689,1684,1679,1687,1694,1689,1684,1692,1699,1694,1689,1697,1704,1699,1694,1702,1709,1704,1699,1707,1714,1709,1704,1712,1719,1714,1709,1704,1712,1719,1714,1709,1717,1724,1719,1714,1722,1729,1724,1719,1714,1722,1729,1724,1719,1727,1734,1729,1724,1719,1727,1734,1729,1724,1732,1739,1734,1729,1724,1732,1739,1734,1729,1737,1744,1739,1734,1729,1737,1744,1739,1734,1742,1749,1744,1739,1747,1754,1749,1744,1752,1759,1754,1749,1744,1752,1759,1754,1749,1757,1764,1759,1754];
const lime2 = [1655,1648,1653,1660,1654,1647,1641,1646,1653,1647,1640,1634,1639,1646,1640,1633,1627,1632,1639,1633,1626,1620,1625,1632,1626,1619,1613,1618,1625,1619,1612,1606,1611,1618,1612,1605,1599,1604,1611,1605,1598,1592,1597,1604,1598,1591,1585,1590,1597,1591,1584,1578,1583,1590,1584,1577,1571,1576,1583,1577,1570,1564,1569,1576,1570,1563,1568,1575,1582,1576,1569,1574,1581,1588,1582,1575,1580,1587,1594,1588,1581,1586,1593,1587,1580,1574,1579,1586,1580,1573,1567,1572,1579,1573,1566,1560,1565,1572,1566,1559,1564];
const paleBlue1 = [1655,1650,1644,1649,1642,1636,1641,1634,1628,1633,1626,1620,1625,1618,1612,1617,1610,1604,1609,1602,1596,1601,1594,1588,1593,1586,1580,1585,1578,1572,1577,1583,1577,1571,1576,1582,1576,1570,1575,1581,1575,1569,1574,1580,1574,1568,1573,1579,1573,1567,1572,1578,1572,1566,1571,1577,1571,1565,1570,1576,1570,1564,1569,1575,1569,1563,1568,1574,1568,1562,1567,1573,1567,1561,1566,1572,1566,1560,1565,1571,1565,1559,1564,1570,1564,1558,1563,1569,1563,1557,1562,1556,1550,1555,1549,1543,1548,1542,1536,1541,1535];
const orange4 = [1655,1652,1660,1667,1663,1671,1667,1675,1682,1678,1686,1682,1690,1686,1681,1689,1696,1692,1687,1695,1690,1686,1694,1701,1697,1692,1700,1696,1691,1699,1706,1702,1697,1705,1700,1696,1704,1711,1707,1702,1710,1706,1701,1709,1716,1712,1707,1715,1710,1706,1714,1721,1717,1712,1720,1716,1711,1719,1726,1722,1717,1725,1721,1716,1724,1731,1727,1722,1730,1726,1721,1729,1736,1732,1727,1735,1731,1726,1734,1741,1737,1732,1740,1736,1731,1739,1746,1742,1737,1745,1741,1736,1744,1751,1747,1742,1750,1746,1741,1749,1756];

const paths = [
  ['darkTeal1', darkTeal1, '#003366'], ['seaGreen1', seaGreen1, '#339966'], ['indigo1', indigo1, '#333399'],
  ['darkGray1', darkGray1, '#333333'], ['gray2', gray2, '#969696'], ['silver1', silver1, '#C0C0C0'],
  ['periwinkle1', periwinkle1, '#9999FF'], ['darkPurple1', darkPurple1, '#660066'], ['oceanBlue1', oceanBlue1, '#0066CC'],
  ['green2', green2, '#00FF00'], ['blue2', blue2, '#0000FF'], ['maroon2', maroon2, '#800000'],
  ['yellow2', yellow2, '#FFFF00'], ['orange3', orange3, '#FF9900'], ['sky2', sky2, '#00CCFF'],
  ['lime2', lime2, '#99CC00'], ['paleBlue1', paleBlue1, '#CCCCFF'], ['orange4', orange4, '#FF6600'],
  ['navy1', navy1, '#000080'], ['plum1', plum1, '#993366'], ['salmon1', salmon1, '#FF8080'],
  ['lavender1', lavender1, '#CC99FF'], ['slate1', slate1, '#666699'], ['yellow1', yellow1, '#FFFF00'],
  ['purple1', purple1, '#800080'], ['brown1', brown1, '#993300'], ['pink1', pink1, '#FF99CC'],
  ['sky1', sky1, '#00CCFF'], ['gold1', gold1, '#FFCC00'], ['turquoise1', turquoise1, '#33CCCC'],
  ['royalBlue1', royalBlue1, '#3366FF'], ['lime1', lime1, '#99CC00'], ['blue1', blue1, '#0000FF'],
  ['olive2', olive2, '#808000'], ['darkGreen2', darkGreen2, '#003300'], ['orange1', orange1, '#FF6600'],
  ['orange2', orange2, '#FF9900'], ['lightGreen1', lightGreen1, '#CCFFCC'], ['cyan2', cyan2, '#00FFFF'],
  ['magenta3', magenta3, '#FF00FF'], ['black2', black2, '#000000'], ['teal1', teal1, '#008080'],
  ['maroon1', maroon1, '#800000'], ['lightCyan1', lightCyan1, '#CCFFFF'], ['darkGreen1', darkGreen1, '#008000'],
  ['black1', black1, '#000000'], ['gray1', gray1, '#808080'], ['lightBlue2', lightBlue2, '#99CCFF'],
  ['magenta2', magenta2, '#FF00FF'], ['red1', red1, '#FF0000'], ['red2', red2, '#FF0000'],
  ['magenta1', magenta1, '#FF00FF'], ['green1', green1, '#00FF00'], ['lightBlue1', lightBlue1, '#99CCFF'],
  ['olive1', olive1, '#333300'], ['cyan1', cyan1, '#00FFFF'], ['yellowLight1', yellowLight1, '#FFFF99'],
  ['peach1', peach1, '#FFCC99']
];

const chart = echarts.init(document.getElementById('chart'), null, { renderer: 'canvas' });
const labelFont = 'Liberation Sans, Arial, sans-serif';

const series = paths.map(function (p) {
  return {
    name: p[0], type: 'line', data: p[1].map(function (v) { return v / 1000; }),
    showSymbol: false, symbol: 'none', smooth: false, clip: true,
    lineStyle: { color: p[2], width: 2 }, itemStyle: { color: p[2] },
    animation: false, silent: true
  };
});

chart.setOption({
  animation: false,
  backgroundColor: '#ffffff',
  grid: { left: 85, right: 24, top: 106, bottom: 105, containLabel: false },
  xAxis: {
    type: 'category', data: steps, boundaryGap: true,
    axisLine: { show: true, lineStyle: { color: '#000', width: 1 } },
    axisTick: { show: true, interval: 0, length: 5, lineStyle: { color: '#000', width: 1 } },
    axisLabel: { interval: 9, margin: 18, fontSize: 19, color: '#333', fontFamily: labelFont },
    splitLine: { show: false }
  },
  yAxis: {
    type: 'value', min: yMin, max: yMax, interval: yStep,
    axisLine: { show: true, lineStyle: { color: '#000', width: 1 } },
    axisTick: { show: true, length: 5, lineStyle: { color: '#000', width: 1 } },
    axisLabel: {
      margin: 14, fontSize: 19, color: '#333', fontFamily: labelFont,
      formatter: function (v) { return v.toFixed(2).replace('.', ','); }
    },
    splitLine: { show: false }
  },
  series: series,
  graphic: [
    { type: 'rect', z: 0, silent: true, shape: { x: 7.5, y: 11.5, width: 1135, height: 714 },
      style: { fill: 'none', stroke: '#000', lineWidth: 1.2 } },
    { type: 'text', left: 38, top: 49, silent: true,
      style: { text: 'Price', font: 'bold 26px Liberation Sans, Arial, sans-serif', fill: '#000' } },
    { type: 'line', silent: true, z: 100, shape: { x1: 622, y1: 718.5, x2: 992, y2: 718.5 },
      style: { stroke: '#000', lineWidth: 2 } },
    { type: 'polygon', silent: true, z: 100, shape: { points: [[990, 711], [1005, 719], [990, 727]] },
      style: { fill: '#000' } },
    { type: 'rect', silent: true, z: 100, shape: { x: 190.5, y: 698.5, width: 431.5, height: 80 },
      style: { fill: '#fff', stroke: '#000', lineWidth: 2 } },
    { type: 'text', silent: true, z: 101, left: 211, top: 716,
      style: { text: 'Steps into the future', font: '32px Liberation Serif, Times New Roman, serif', fill: '#000' } }
  ]
});
</script>
</body>
</html>
